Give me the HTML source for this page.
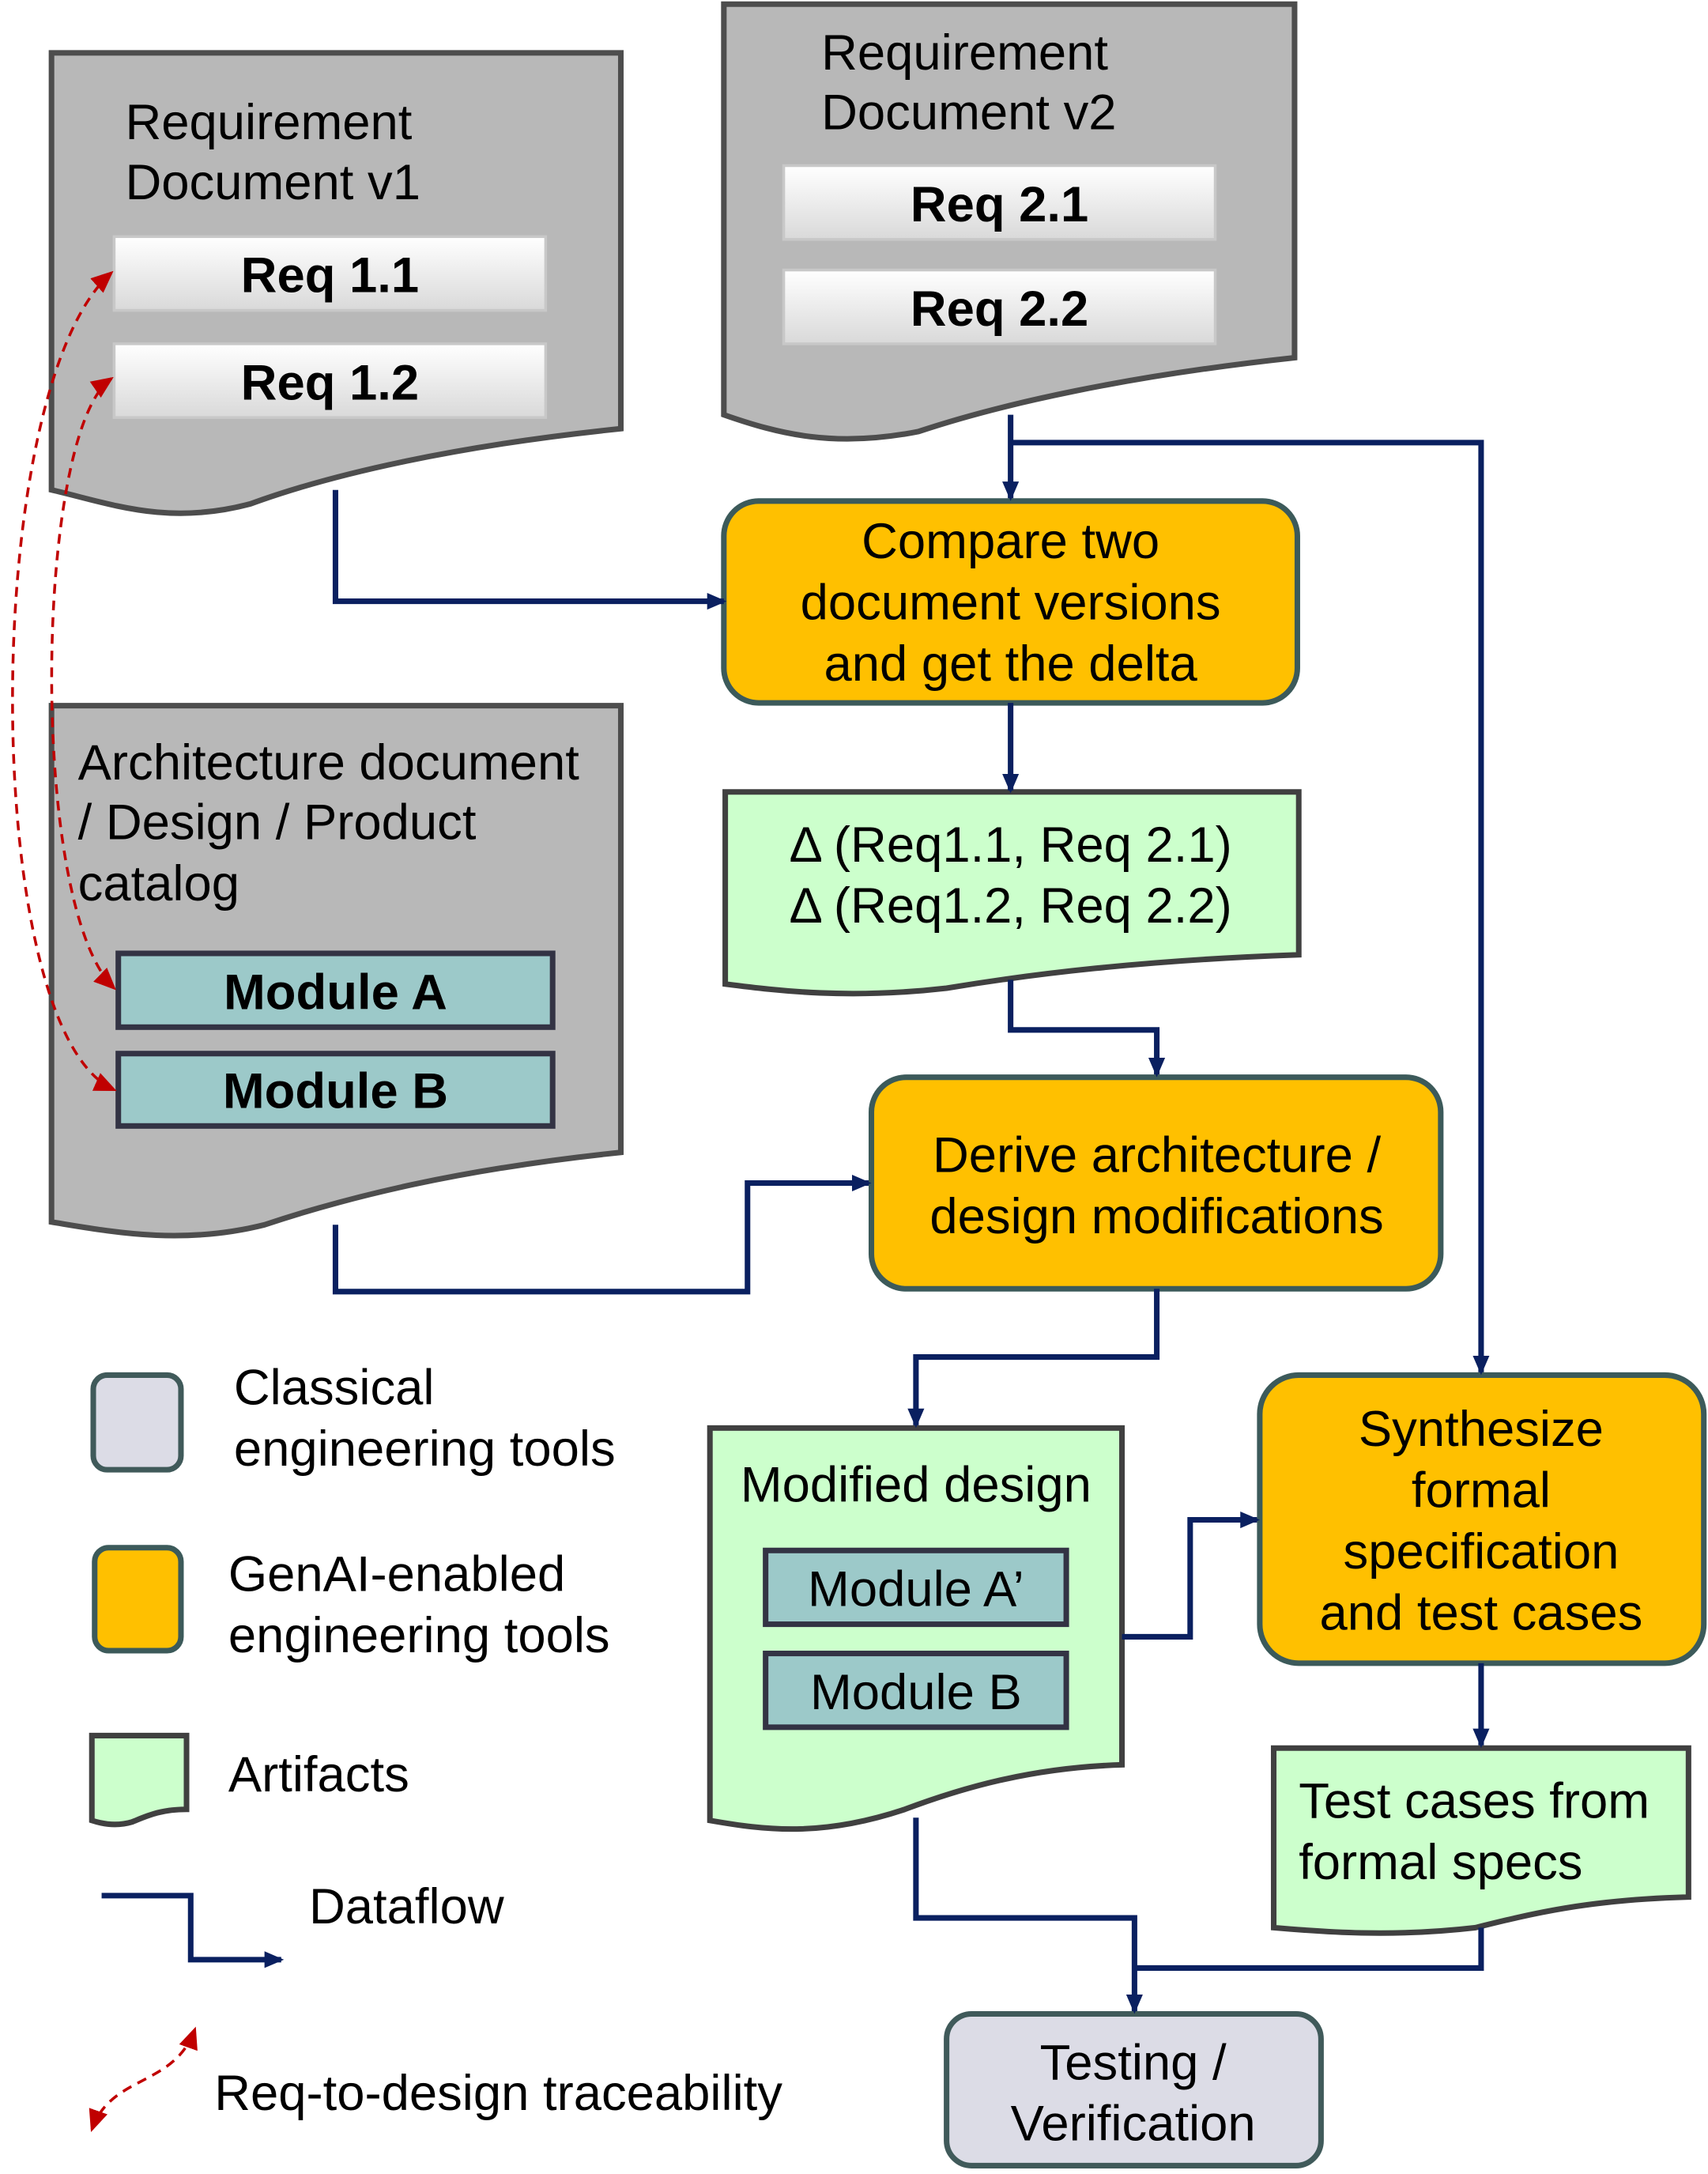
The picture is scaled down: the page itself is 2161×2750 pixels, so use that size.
<!DOCTYPE html>
<html><head><meta charset="utf-8"><style>
html,body{margin:0;padding:0;background:#fff;}
svg{display:block;}
text{font-family:"Liberation Sans",Arial,sans-serif;font-size:36px;fill:#000;}
.b{font-weight:bold;}
</style></head><body>
<svg width="2161" height="2750" viewBox="0 0 1227 1562" preserveAspectRatio="none" xmlns="http://www.w3.org/2000/svg">
<defs>
<marker id="ar" markerWidth="14" markerHeight="14" refX="12" refY="7" orient="auto" markerUnits="userSpaceOnUse"><path d="M0,1 L14,7 L0,13 z" fill="#0a2060"/></marker>
<marker id="rr" markerWidth="16" markerHeight="14" refX="14" refY="7" orient="auto-start-reverse" markerUnits="userSpaceOnUse"><path d="M0,0 L16,7 L0,14 z" fill="#c00000"/></marker>
<linearGradient id="g" x1="0" y1="0" x2="0" y2="1"><stop offset="0" stop-color="#ffffff"/><stop offset="1" stop-color="#d9d9d9"/></linearGradient>
</defs>
<g stroke="#4d4d4d" stroke-width="4" fill="#b8b8b8">
<path d="M37,38 H446 V308 C330,320 240,340 180,362 C120,378 80,362 37,352 Z"/>
<path d="M520,3 H930 V257 C810,270 720,290 660,310 C600,322 560,312 520,298 Z"/>
<path d="M37,507 H446 V828 C330,840 250,860 190,880 C130,895 80,885 37,878 Z"/>
</g>
<g fill="#ccffcc" stroke="#404040" stroke-width="4">
<path d="M521,569 H933 V686 C820,690 740,700 680,710 C610,718 560,712 521,707 Z"/>
<path d="M510,1026 H806 V1268 C740,1270 690,1285 650,1300 C590,1320 550,1315 510,1308 Z"/>
<path d="M915,1256 H1213 V1363 C1140,1365 1100,1375 1060,1385 C1000,1392 950,1388 915,1385 Z"/>
<path d="M66,1247 H134 V1300 C115,1300 105,1305 95,1309 C85,1312 75,1311 66,1308 Z"/>
</g>
<g fill="url(#g)" stroke="#c8c8c8" stroke-width="2">
<rect x="82" y="170" width="310" height="53"/><rect x="82" y="247" width="310" height="53"/>
<rect x="563" y="119" width="310" height="53"/><rect x="563" y="194" width="310" height="53"/>
</g>
<g fill="#9cc9c9" stroke="#334" stroke-width="4">
<rect x="85" y="685" width="312" height="53"/><rect x="85" y="757" width="312" height="52"/>
<rect x="550" y="1114" width="216" height="53"/><rect x="550" y="1188" width="216" height="53"/>
</g>
<g fill="#ffc000" stroke="#3c5a5a" stroke-width="4">
<rect x="520" y="360" width="412" height="145" rx="25"/>
<rect x="626" y="774" width="409" height="152" rx="25"/>
<rect x="905" y="988" width="319" height="207" rx="28"/>
<rect x="68" y="1112" width="62" height="74" rx="10"/>
</g>
<g fill="#dcdce6" stroke="#405a5a" stroke-width="4">
<rect x="680" y="1447" width="269" height="109" rx="18"/>
<rect x="67" y="988" width="63" height="68" rx="10"/>
</g>
<g fill="none" stroke="#0a2060" stroke-width="4">
<path d="M726,298 V358" marker-end="url(#ar)"/>
<path d="M726,318 H1064 V986" marker-end="url(#ar)"/>
<path d="M241,352 V432 H520" marker-end="url(#ar)"/>
<path d="M726,505 V568" marker-end="url(#ar)"/>
<path d="M726,704 V740 H831 V772" marker-end="url(#ar)"/>
<path d="M241,880 V928 H537 V850 H624" marker-end="url(#ar)"/>
<path d="M831,926 V975 H658 V1024" marker-end="url(#ar)"/>
<path d="M806,1176 H855 V1092 H903" marker-end="url(#ar)"/>
<path d="M1064,1195 V1254" marker-end="url(#ar)"/>
<path d="M658,1306 V1378 H815 V1445" marker-end="url(#ar)"/>
<path d="M1064,1385 V1414 H815"/>
<path d="M73,1362 H137 V1408 H202" marker-end="url(#ar)"/>
</g>
<g fill="none" stroke="#c00000" stroke-width="2" stroke-dasharray="7,5">
<path d="M80,196 C -15,280 -15,740 82,783" marker-start="url(#rr)" marker-end="url(#rr)"/>
<path d="M80,272 C 25,310 20,650 82,710" marker-start="url(#rr)" marker-end="url(#rr)"/>
<path d="M66,1530 C 80,1490 125,1500 140,1458" marker-start="url(#rr)" marker-end="url(#rr)"/>
</g>
<text x="90" y="100">Requirement</text><text x="90" y="143">Document v1</text>
<text x="590" y="50">Requirement</text><text x="590" y="93">Document v2</text>
<text class="b" x="237" y="210" text-anchor="middle">Req 1.1</text>
<text class="b" x="237" y="287" text-anchor="middle">Req 1.2</text>
<text class="b" x="718" y="159" text-anchor="middle">Req 2.1</text>
<text class="b" x="718" y="234" text-anchor="middle">Req 2.2</text>
<text x="56" y="560">Architecture document</text><text x="56" y="603">/ Design / Product</text><text x="56" y="647">catalog</text>
<text class="b" x="241" y="725" text-anchor="middle">Module A</text>
<text class="b" x="241" y="796" text-anchor="middle">Module B</text>
<g text-anchor="middle">
<text x="726" y="401">Compare two</text><text x="726" y="445">document versions</text><text x="726" y="489">and get the delta</text>
<text x="726" y="619">Δ (Req1.1, Req 2.1)</text><text x="726" y="663">Δ (Req1.2, Req 2.2)</text>
<text x="831" y="842">Derive architecture /</text><text x="831" y="886">design modifications</text>
<text x="1064" y="1039">Synthesize</text><text x="1064" y="1083">formal</text><text x="1064" y="1127">specification</text><text x="1064" y="1171">and test cases</text>
<text x="658" y="1079">Modified design</text>
<text x="658" y="1154">Module A’</text><text x="658" y="1228">Module B</text>
<text x="814" y="1494">Testing /</text><text x="814" y="1538">Verification</text>
</g>
<text x="933" y="1306">Test cases from</text><text x="933" y="1350">formal specs</text>
<text x="168" y="1009">Classical</text><text x="168" y="1053">engineering tools</text>
<text x="164" y="1143">GenAI-enabled</text><text x="164" y="1187">engineering tools</text>
<text x="164" y="1287">Artifacts</text>
<text x="222" y="1382">Dataflow</text>
<text x="154" y="1516">Req-to-design traceability</text>
</svg>
</body></html>
